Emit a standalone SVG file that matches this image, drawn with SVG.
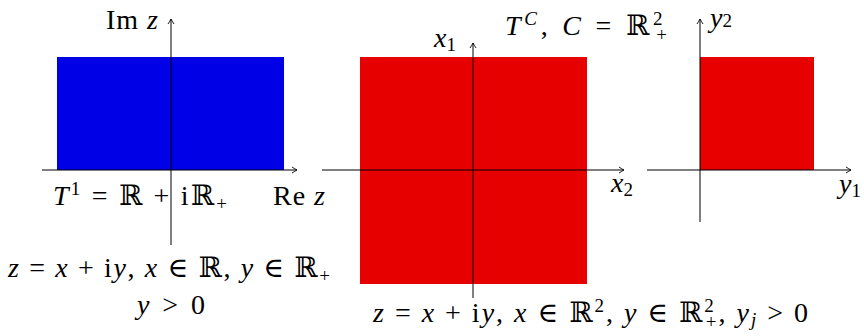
<svg xmlns="http://www.w3.org/2000/svg" width="864" height="336" viewBox="0 0 864 336">
<style>
text{font-family:"Liberation Serif","DejaVu Serif",serif;font-size:28px;fill:#000}
.i{font-style:italic}
.s{font-size:19px}
.ax{stroke:#000;stroke-width:1;fill:none;marker-end:url(#ah)}
</style>
<defs>
<marker id="ah" markerWidth="8" markerHeight="8" refX="6" refY="4" orient="auto" markerUnits="userSpaceOnUse">
<path d="M1,1 Q4,3 6,4 Q4,5 1,7" fill="none" stroke="#000" stroke-width="0.9"/>
</marker>
</defs>
<rect width="864" height="336" fill="#fff"/>
<g id="panel1">
<rect x="57" y="57" width="227" height="113" fill="#0000E6"/>
</g>
<g id="panel2">
<rect x="360" y="57" width="227" height="227" fill="#E60000"/>
</g>
<g id="panel3">
<rect x="700" y="57" width="114" height="113" fill="#E60000"/>
</g>
<g id="connectors">
<line class="ax" x1="42" y1="170" x2="297" y2="170"/>
<line class="ax" x1="171" y1="245" x2="171" y2="19"/>
<line class="ax" x1="322" y1="170" x2="624" y2="170"/>
<line class="ax" x1="473" y1="298" x2="473" y2="43"/>
<line class="ax" x1="647" y1="170" x2="851" y2="170"/>
<line class="ax" x1="700" y1="222" x2="700" y2="19"/>
</g>
<g id="labels">
<text x="106" y="29" textLength="52">Im <tspan class="i">z</tspan></text>
<text x="273" y="205" textLength="52">Re <tspan class="i">z</tspan></text>
<text x="53" y="205" textLength="174"><tspan class="i">T</tspan><tspan class="s" dy="-10">1</tspan><tspan dy="10"> = ℝ + iℝ</tspan><tspan class="s" dy="5">+</tspan></text>
<text x="8" y="277" textLength="322"><tspan class="i">z</tspan> = <tspan class="i">x</tspan> + i<tspan class="i">y</tspan>, <tspan class="i">x</tspan> ∈ ℝ, <tspan class="i">y</tspan> ∈ ℝ<tspan class="s" dy="5">+</tspan></text>
<text x="137" y="314" textLength="68"><tspan class="i">y</tspan> &gt; 0</text>
<text x="434" y="47"><tspan class="i">x</tspan><tspan class="s" dy="4">1</tspan></text>
<text x="611" y="192"><tspan class="i">x</tspan><tspan class="s" dy="4">2</tspan></text>
<text x="505" y="35" textLength="162"><tspan class="i">T</tspan><tspan class="s i" dy="-10">C</tspan><tspan dy="10">, </tspan><tspan class="i">C</tspan> = ℝ<tspan class="s" dy="-10">2</tspan><tspan class="s" dx="-10" dy="16">+</tspan></text>
<text x="373" y="322" textLength="435"><tspan class="i">z</tspan> = <tspan class="i">x</tspan> + i<tspan class="i">y</tspan>, <tspan class="i">x</tspan> ∈ ℝ<tspan class="s" dy="-10">2</tspan><tspan dy="10">, </tspan><tspan class="i">y</tspan> ∈ ℝ<tspan class="s" dy="-10">2</tspan><tspan class="s" dx="-10" dy="16">+</tspan><tspan dy="-6">, </tspan><tspan class="i">y</tspan><tspan class="s i" dy="4">j</tspan><tspan dy="-4"> &gt; 0</tspan></text>
<text x="710" y="27"><tspan class="i">y</tspan><tspan class="s">2</tspan></text>
<text x="839" y="193"><tspan class="i">y</tspan><tspan class="s" dy="4">1</tspan></text>
</g>
</svg>
